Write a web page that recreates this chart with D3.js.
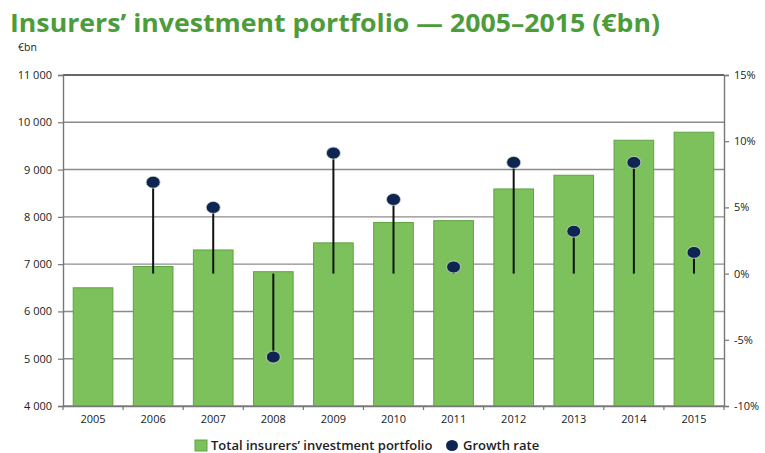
<!DOCTYPE html>
<html>
<head>
<meta charset="utf-8">
<script src="https://cdn.jsdelivr.net/npm/d3@7"></script>
<style>
  html, body { margin: 0; padding: 0; background: #fff; }
  svg { display: block; }
</style>
</head>
<body>
<svg id="chart" width="765" height="453"></svg>
<script>
// Chart data
const years = ["2005", "2006", "2007", "2008", "2009", "2010", "2011", "2012", "2013", "2014", "2015"];
const portfolio = [6500, 6950, 7300, 6840, 7450, 7880, 7920, 8590, 8880, 9620, 9790]; // €bn
const growth = [null, 6.9, 5.0, -6.3, 9.1, 5.6, 0.5, 8.4, 3.2, 8.4, 1.6];            // %
const leftTicks = [4000, 5000, 6000, 7000, 8000, 9000, 10000, 11000];
const rightTicks = [-10, -5, 0, 5, 10, 15];

const title = "Insurers\u2019 investment portfolio \u2014 2005\u20132015 (\u20acbn)";
const unitLabel = "\u20acbn";
const legendLabels = ["Total insurers\u2019 investment portfolio", "Growth rate"];

const svg = d3.select("#chart");
const m = { left: 63, right: 724, top: 75, bottom: 406 };
const font = "'Open Sans', 'DejaVu Sans', sans-serif";

const x = d3.scaleBand().domain(years).range([m.left, m.right]).paddingInner(0.34).paddingOuter(0.17);
const yL = d3.scaleLinear().domain([4000, 11000]).range([m.bottom, m.top]);
const yR = d3.scaleLinear().domain([-10, 15]).range([m.bottom, m.top]);

// Title and unit
svg.append("text").attr("x", 10).attr("y", 32)
  .attr("font-family", font).attr("font-weight", 700).attr("font-size", 25)
  .attr("textLength", 650).attr("lengthAdjust", "spacingAndGlyphs")
  .attr("fill", "#4d9c3b").text(title);
svg.append("text").attr("x", 18).attr("y", 51)
  .attr("font-family", font).attr("font-size", 10.5).attr("fill", "#222").text(unitLabel);

// Horizontal gridlines
svg.append("g").selectAll("line").data(leftTicks).join("line")
  .attr("x1", m.left).attr("x2", m.right)
  .attr("y1", d => yL(d)).attr("y2", d => yL(d))
  .attr("stroke", d => d === 11000 ? "#333" : "#8c8c8c")
  .attr("stroke-width", 1.4);

// Bars
svg.append("g").selectAll("rect").data(years).join("rect")
  .attr("x", d => x(d)).attr("width", x.bandwidth())
  .attr("y", (d, i) => yL(portfolio[i]))
  .attr("height", (d, i) => yL(4000) - yL(portfolio[i]))
  .attr("fill", "#7cc15b").attr("stroke", "#5fa344").attr("stroke-width", 1);

// Left axis
const thousands = d => d3.format(",")(d).replace(",", " ");
const axL = svg.append("g").attr("transform", `translate(${m.left},0)`)
  .call(d3.axisLeft(yL).tickValues(leftTicks).tickSize(5).tickPadding(6).tickFormat(thousands));
axL.select(".domain").attr("stroke", "#777").attr("stroke-width", 1.4);
axL.selectAll(".tick line").attr("stroke", "#777").attr("stroke-width", 1.2);
axL.selectAll("text").attr("font-family", font).attr("font-size", 11).attr("fill", "#222");

// Right axis
const axR = svg.append("g").attr("transform", `translate(${m.right},0)`)
  .call(d3.axisRight(yR).tickValues(rightTicks).tickSize(5).tickPadding(5).tickFormat(d => d + "%"));
axR.select(".domain").attr("stroke", "#777").attr("stroke-width", 1.4);
axR.selectAll(".tick line").attr("stroke", "#777").attr("stroke-width", 1.2);
axR.selectAll("text").attr("font-family", font).attr("font-size", 11).attr("fill", "#222");

// Bottom axis: ticks sit at the band boundaries
const axB = svg.append("g").attr("transform", `translate(0,${m.bottom})`)
  .call(d3.axisBottom(x).tickSize(0).tickPadding(9));
axB.select(".domain").attr("stroke", "#777").attr("stroke-width", 1.4);
axB.selectAll("text").attr("font-family", font).attr("font-size", 11).attr("fill", "#222");
const step = x.step();
svg.append("g").selectAll("line").data(d3.range(years.length + 1)).join("line")
  .attr("x1", i => m.left + i * step).attr("x2", i => m.left + i * step)
  .attr("y1", m.bottom).attr("y2", m.bottom + 4)
  .attr("stroke", "#777").attr("stroke-width", 1.2);

// Growth rate lollipops
const pts = years.map((d, i) => ({ year: d, v: growth[i] })).filter(p => p.v !== null);
const cx = d => x(d) + x.bandwidth() / 2;
svg.append("g").selectAll("line").data(pts).join("line")
  .attr("x1", p => cx(p.year)).attr("x2", p => cx(p.year))
  .attr("y1", yR(0)).attr("y2", p => yR(p.v))
  .attr("stroke", "#111").attr("stroke-width", 2);
svg.append("g").selectAll("ellipse").data(pts).join("ellipse")
  .attr("cx", p => cx(p.year)).attr("cy", p => yR(p.v))
  .attr("rx", 7).attr("ry", 6)
  .attr("fill", "#0e2452").attr("stroke", "#c9dcc0").attr("stroke-width", 0.8);

// Legend
const lg = svg.append("g");
lg.append("rect").attr("x", 195).attr("y", 440).attr("width", 12).attr("height", 11)
  .attr("fill", "#7cc15b").attr("stroke", "#5fa344");
lg.append("text").attr("x", 211).attr("y", 450)
  .attr("font-family", font).attr("font-weight", 600).attr("font-size", 13).attr("fill", "#222")
  .text(legendLabels[0]);
lg.append("ellipse").attr("cx", 452).attr("cy", 445.5).attr("rx", 6).attr("ry", 5.5).attr("fill", "#0e2452");
lg.append("text").attr("x", 463).attr("y", 450)
  .attr("font-family", font).attr("font-weight", 600).attr("font-size", 13).attr("fill", "#222")
  .text(legendLabels[1]);
</script>
</body>
</html>
